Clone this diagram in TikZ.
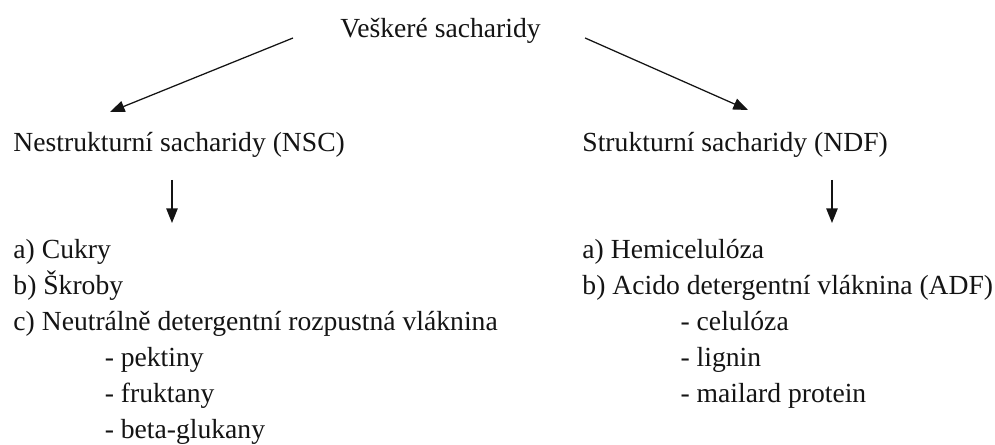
\documentclass[tikz,border=0pt]{standalone}
\usepackage{fontspec}
\setmainfont{Liberation Serif}
\usetikzlibrary{positioning, arrows.meta, calc}

\begin{document}
\begin{tikzpicture}[
  x=0.438pt, y=-0.438pt,
  font=\fontsize{12.1}{15.8}\selectfont,
  txt/.style={inner sep=0pt, anchor=base west, text=black!92},
  list/.style={inner sep=0pt, anchor=north west, align=left, text=black!92},
  link/.style={-{Triangle[length=6.4pt, width=5pt]}, line width=0.55pt, draw=black!92},
]
\useasboundingbox[fill=white] (0,0) rectangle (995,445);

\node[txt] (all) at (340,38) {Veškeré sacharidy};

\node[txt] (nsc) at (13,152) {Nestrukturní sacharidy (NSC)};
\node[txt] (ndf) at (582,152) {Strukturní sacharidy (NDF)};

\node[list] (nsclist) at (13,239)
    {a) Cukry \\ b) Škroby \\ c) Neutrálně detergentní rozpustná vláknina \\
     \hspace*{40pt}- pektiny \\ \hspace*{40pt}- fruktany \\ \hspace*{40pt}- beta-glukany};
\node[list] (ndflist) at (582,239)
    {a) Hemicelulóza \\ b) Acido detergentní vláknina (ADF) \\
     \hspace*{43pt}- celulóza \\ \hspace*{43pt}- lignin \\ \hspace*{43pt}- mailard protein};

\draw[link] ($(all.base west)+(-47,0)$) -- ($(nsc.base west)+(97,-40)$);
\draw[link] ($(all.base east)+(44,0)$) -- ($(ndf.base west)+(166,-42)$);
\draw[link] ($(nsc.base west)+(159,28)$) -- ($(nsc.base west)+(159,71)$);
\draw[link] ($(ndf.base west)+(250,28)$) -- ($(ndf.base west)+(250,71)$);

\end{tikzpicture}
\end{document}
